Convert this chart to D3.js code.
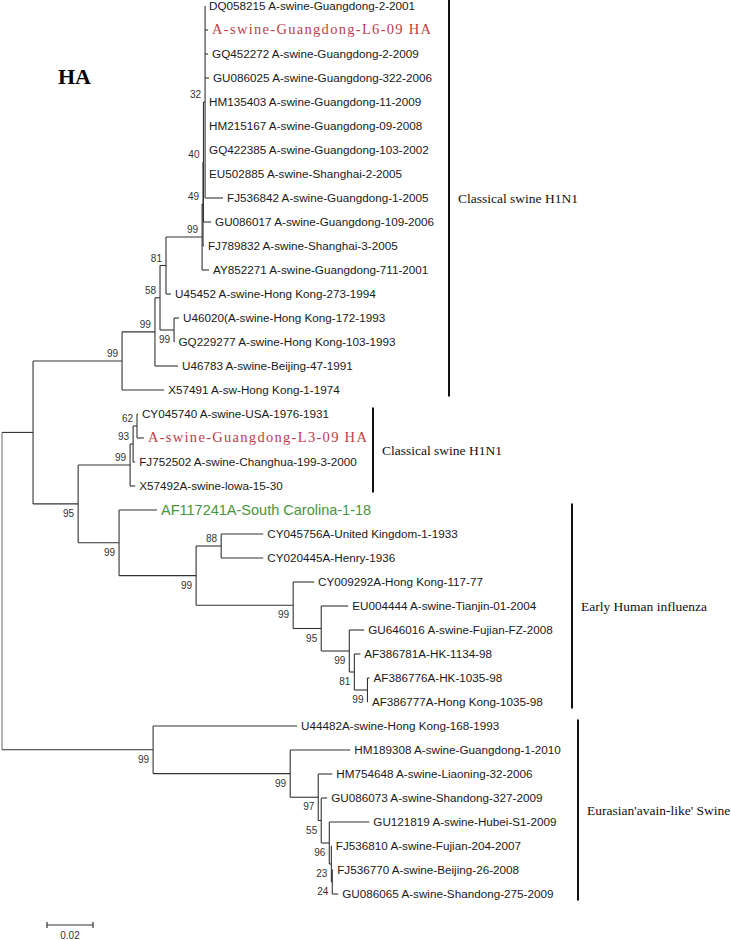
<!DOCTYPE html>
<html>
<head>
<meta charset="utf-8">
<script src="https://cdn.jsdelivr.net/npm/d3@7"></script>
<style>
  body { margin: 0; background: #fff; }
</style>
</head>
<body>
<script>
// HA tree, branch lengths in substitutions/site
const edges = [
  ["root", "", 0],
  ["A", "root", 0.0135],
  ["B", "A", 0.0387],
  ["D", "B", 0.0143],
  ["H", "D", 0.0022],
  ["F", "H", 0.0026],
  ["G", "F", 0.0157],
  ["N49", "G", 0.0004],
  ["N40", "N49", 0.0002],
  ["N32", "N40", 0.0007],
  ["DQ058215 A-swine-Guangdong-2-2001", "N32", 0],
  ["A-swine-Guangdong-L6-09 HA", "N32", 0.0013],
  ["GQ452272 A-swine-Guangdong-2-2009", "N32", 0.0013],
  ["GU086025 A-swine-Guangdong-322-2006", "N32", 0.0017],
  ["HM135403 A-swine-Guangdong-11-2009", "N32", 0],
  ["HM215167 A-swine-Guangdong-09-2008", "N32", 0],
  ["GQ422385 A-swine-Guangdong-103-2002", "N32", 0],
  ["EU502885 A-swine-Shanghai-2-2005", "N32", 0],
  ["FJ536842 A-swine-Guangdong-1-2005", "N32", 0.0078],
  ["GU086017 A-swine-Guangdong-109-2006", "N40", 0.0033],
  ["FJ789832 A-swine-Shanghai-3-2005", "N49", 0.0004],
  ["AY852271 A-swine-Guangdong-711-2001", "G", 0.0030],
  ["U45452 A-swine-Hong Kong-273-1994", "F", 0.0022],
  ["J", "H", 0.0061],
  ["U46020(A-swine-Hong Kong-172-1993", "J", 0.0022],
  ["GQ229277 A-swine-Hong Kong-103-1993", "J", 0.0002],
  ["U46783 A-swine-Beijing-47-1991", "D", 0.0100],
  ["X57491 A-sw-Hong Kong-1-1974", "B", 0.0183],
  ["C", "A", 0.0196],
  ["M", "C", 0.0226],
  ["Q", "M", 0.0013],
  ["R", "Q", 0.0017],
  ["CY045740 A-swine-USA-1976-1931", "R", 0.0004],
  ["A-swine-Guangdong-L3-09 HA", "R", 0.0030],
  ["FJ752502 A-swine-Changhua-199-3-2000", "Q", 0.0009],
  ["X57492A-swine-lowa-15-30", "M", 0.0022],
  ["P", "C", 0.0178],
  ["AF117241A-South Carolina-1-18", "P", 0.0165],
  ["S", "P", 0.0335],
  ["T", "S", 0.0109],
  ["CY045756A-United Kingdom-1-1933", "T", 0.0183],
  ["CY020445A-Henry-1936", "T", 0.0183],
  ["U", "S", 0.0422],
  ["CY009292A-Hong Kong-117-77", "U", 0.0091],
  ["V", "U", 0.0122],
  ["EU004444 A-swine-Tianjin-01-2004", "V", 0.0117],
  ["W", "V", 0.0122],
  ["GU646016 A-swine-Fujian-FZ-2008", "W", 0.0065],
  ["X", "W", 0.0022],
  ["AF386781A-HK-1134-98", "X", 0.0026],
  ["Y", "X", 0.0057],
  ["AF386776A-HK-1035-98", "Y", 0.0009],
  ["AF386777A-Hong Kong-1035-98", "Y", 0.0002],
  ["Z", "root", 0.0657],
  ["U44482A-swine-Hong Kong-168-1993", "Z", 0.0626],
  ["AA", "Z", 0.0596],
  ["HM189308 A-swine-Guangdong-1-2010", "AA", 0.0261],
  ["BB", "AA", 0.0122],
  ["HM754648 A-swine-Liaoning-32-2006", "BB", 0.0061],
  ["CC", "BB", 0.0013],
  ["GU086073 A-swine-Shandong-327-2009", "CC", 0.0026],
  ["DD", "CC", 0.0035],
  ["GU121819 A-swine-Hubei-S1-2009", "DD", 0.0174],
  ["EE", "DD", 0.0009],
  ["FJ536810 A-swine-Fujian-204-2007", "EE", 0.0002],
  ["FF", "EE", 0.0004],
  ["FJ536770 A-swine-Beijing-26-2008", "FF", 0.0004],
  ["GU086065 A-swine-Shandong-275-2009", "FF", 0.0026]
];

// bootstrap values (node, value)
const support = [
  ["N32", 32], ["N40", 40], ["N49", 49], ["G", 99], ["F", 81], ["H", 58],
  ["D", 99], ["J", 99], ["B", 99], ["R", 62], ["Q", 93], ["M", 99],
  ["C", 95], ["P", 99], ["T", 88], ["S", 99], ["U", 99], ["V", 95],
  ["W", 99], ["X", 81], ["Y", 99], ["Z", 99], ["AA", 99], ["BB", 97],
  ["CC", 55], ["DD", 96], ["EE", 23], ["FF", 24]
];
// these ones sit under the branch, the rest above
const supportBelow = ["J", "C", "P", "S", "U", "V", "W", "X", "Y", "Z", "AA", "BB", "CC", "DD", "EE", "FF"];

const redTaxa = ["A-swine-Guangdong-L6-09 HA", "A-swine-Guangdong-L3-09 HA"];
const greenTaxa = ["AF117241A-South Carolina-1-18"];

// clade brackets: label, first taxon, last taxon
const clades = [
  ["Classical swine H1N1", "DQ058215 A-swine-Guangdong-2-2001", "X57491 A-sw-Hong Kong-1-1974"],
  ["Classical swine H1N1", "CY045740 A-swine-USA-1976-1931", "X57492A-swine-lowa-15-30"],
  ["Early Human influenza", "AF117241A-South Carolina-1-18", "AF386777A-Hong Kong-1035-98"],
  ["Eurasian'avain-like' Swine", "U44482A-swine-Hong Kong-168-1993", "GU086065 A-swine-Shandong-275-2009"]
];
const cladeX = [449, 373, 572, 578];

const scaleBar = 0.02;

const width = 731, height = 940;

const svg = d3.select("body").append("svg")
    .attr("width", width)
    .attr("height", height);

const root = d3.stratify()
    .id(d => d[0])
    .parentId(d => d[1] || null)(edges);

// depth along branches
root.eachBefore(n => { n.len = n.parent ? n.parent.len + n.data[2] : 0; });

const leaves = root.leaves();
const x = d3.scaleLinear().domain([0, 0.1]).range([2, 232]);
const y = d3.scaleLinear().domain([0, leaves.length - 1]).range([6, 894]);

leaves.forEach((n, i) => { n.ty = y(i); });
root.eachAfter(n => {
  if (n.children) n.ty = (n.children[0].ty + n.children[n.children.length - 1].ty) / 2;
  n.tx = x(n.len);
});

const g = svg.append("g");

// vertical connectors
g.selectAll("line.v")
  .data(root.descendants().filter(n => n.children))
  .join("line")
    .attr("x1", d => d.tx).attr("x2", d => d.tx)
    .attr("y1", d => d.children[0].ty)
    .attr("y2", d => d.children[d.children.length - 1].ty)
    .attr("stroke", d => d === root ? "#777" : "#333")
    .attr("stroke-width", 1.1);

// horizontal branches
g.selectAll("line.h")
  .data(root.descendants().filter(n => n.parent))
  .join("line")
    .attr("x1", d => d.parent.tx).attr("x2", d => d.tx)
    .attr("y1", d => d.ty).attr("y2", d => d.ty)
    .attr("stroke", "#333")
    .attr("stroke-width", 1.1);

// taxon names
const isRed = d => redTaxa.includes(d.id), isGreen = d => greenTaxa.includes(d.id);
g.selectAll("text.leaf")
  .data(leaves)
  .join("text")
    .attr("x", d => d.tx + 4)
    .attr("y", d => d.ty + (isGreen(d) ? 5 : 4.2))
    .attr("font-family", d => isRed(d) ? "'Liberation Serif', serif" : "'Liberation Sans', Arial, sans-serif")
    .attr("font-size", d => isRed(d) ? 14.5 : isGreen(d) ? 14.5 : 11.7)
    .attr("letter-spacing", d => isRed(d) ? 1.3 : null)
    .attr("fill", d => isRed(d) ? "#c23b48" : isGreen(d) ? "#4a9440" : "#1a1a1a")
    .text(d => d.id);

// bootstrap values
const byId = new Map(root.descendants().map(n => [n.id, n]));
g.selectAll("text.bs")
  .data(support)
  .join("text")
    .attr("x", d => byId.get(d[0]).tx - 4)
    .attr("y", d => byId.get(d[0]).ty + (supportBelow.includes(d[0]) ? 13 : -4))
    .attr("text-anchor", "end")
    .attr("font-family", "'Liberation Sans', Arial, sans-serif")
    .attr("font-size", 10)
    .attr("fill", "#333")
    .text(d => d[1]);

// clade brackets
clades.forEach((c, i) => {
  const y0 = i === 0 ? 0 : byId.get(c[1]).ty - 6.5, y1 = byId.get(c[2]).ty + 6.5;
  svg.append("line")
      .attr("x1", cladeX[i]).attr("x2", cladeX[i])
      .attr("y1", y0).attr("y2", y1)
      .attr("stroke", "#111")
      .attr("stroke-width", 2);
  svg.append("text")
      .attr("x", cladeX[i] + 9)
      .attr("y", (y0 + y1) / 2 + 4.5)
      .attr("font-family", "'Liberation Serif', 'Times New Roman', serif")
      .attr("font-size", 13.5)
      .attr("fill", "#111")
      .text(c[0]);
});

// title
svg.append("text")
    .attr("x", 58).attr("y", 84)
    .attr("font-family", "'Liberation Serif', 'Times New Roman', serif")
    .attr("font-weight", "bold")
    .attr("font-size", 22)
    .text("HA");

// scale bar
const sb = svg.append("g").attr("transform", "translate(45,925)");
const sbw = x(scaleBar) - x(0);
sb.append("line").attr("x1", 2).attr("x2", 2 + sbw).attr("stroke", "#333").attr("stroke-width", 1.2);
sb.selectAll("line.tick").data([2, 2 + sbw]).join("line")
    .attr("x1", d => d).attr("x2", d => d)
    .attr("y1", -3).attr("y2", 3)
    .attr("stroke", "#333").attr("stroke-width", 1.2);
sb.append("text")
    .attr("x", 2 + sbw / 2).attr("y", 14)
    .attr("text-anchor", "middle")
    .attr("font-family", "'Liberation Sans', Arial, sans-serif")
    .attr("font-size", 10)
    .attr("fill", "#333")
    .text(scaleBar);
</script>
</body>
</html>
